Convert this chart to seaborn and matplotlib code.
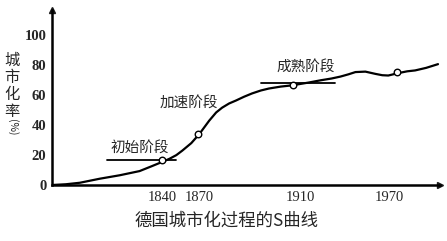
import matplotlib
matplotlib.use("Agg")
import matplotlib.pyplot as plt
import seaborn as sns
import pandas as pd

# curve position along the (non-linear) time axis and urbanisation rate (%)
curve_x = [0, 14, 28, 48, 68, 88, 100, 111, 118, 125, 131, 140, 148, 153, 158,
           165, 171, 178, 185, 193, 201, 210, 218, 230, 241, 258, 270, 281,
           290, 298, 305, 315, 325, 332, 338, 348, 357, 365, 376, 388]
curve_y = [0, 0.5, 1.5, 4.2, 6.5, 9.3, 12.5, 15.5, 17.5, 20, 23, 28, 34, 38.5, 43,
           48.5, 51.7, 54.5, 56.5, 59, 61.2, 63.2, 64.5, 65.8, 66.6, 68.5, 70, 71.2,
           72.5, 74, 75.5, 75.8, 74.3, 73.4, 73.2, 74.8, 76, 76.6, 78.3, 80.8]

# marked points
pt_x = [111, 147, 242, 347]
pt_y = [16.5, 34, 67, 75.5]

tick_pos = [111, 148, 250, 339]
tick_labels = ["1840", "1870", "1910", "1970"]
y_ticks = [0, 20, 40, 60, 80, 100]

stage_names = ["初始阶段", "加速阶段", "成熟阶段"]

sns.set_theme(style="white")
plt.rcParams['font.family'] = ['Noto Sans CJK SC', 'DejaVu Sans']

fig = plt.figure(figsize=(4.47, 2.41), dpi=100)
ax = fig.add_axes([52/447, 56/241, 388/447, 175/241])

df = pd.DataFrame({"x": curve_x, "y": curve_y})
sns.lineplot(data=df, x="x", y="y", ax=ax, color="black", linewidth=1.6,
             solid_joinstyle="round", solid_capstyle="round")
sns.scatterplot(x=pt_x, y=pt_y, ax=ax, s=22, facecolor="white", edgecolor="black",
                linewidth=1.0, zorder=5)

# stage reference lines
ax.plot([55, 125], [16.5, 16.5], color="black", linewidth=1.3)
ax.plot([210, 284], [68.5, 68.5], color="black", linewidth=1.3)

ax.set_xlim(0, 390)
ax.set_ylim(0, 117)

for s in ["top", "right"]:
    ax.spines[s].set_visible(False)
for s in ["left", "bottom"]:
    ax.spines[s].set_linewidth(1.8)
    ax.spines[s].set_color("black")

ax.plot(1, 0, ">k", transform=ax.get_yaxis_transform(), clip_on=False, markersize=4)
ax.plot(0, 1, "^k", transform=ax.get_xaxis_transform(), clip_on=False, markersize=4)

ax.set_xticks(tick_pos)
ax.set_xticklabels(tick_labels, family="Liberation Serif", fontsize=10.5)
ax.set_yticks(y_ticks)
ax.set_yticklabels([str(v) for v in y_ticks], family="Liberation Serif", fontsize=10.5, fontweight="bold")
ax.tick_params(axis="both", length=0, pad=4)
ax.set_xlabel("")
ax.set_ylabel("")

ax.text(88, 25, stage_names[0], fontsize=10.5, ha="center", va="center")
ax.text(138, 55, stage_names[1], fontsize=10.5, ha="center", va="center")
ax.text(255, 79, stage_names[2], fontsize=10.5, ha="center", va="center")

fig.text(12/447, 1 - 86/241, "城\n市\n化\n率", fontsize=11, ha="center", va="center", linespacing=1.0)
fig.text(12/447, 1 - 127/241, "(%)", fontsize=7.5, ha="center", va="center", rotation=-90)

fig.text(227/447, 1 - 221/241, "德国城市化过程的S曲线", fontsize=12.5, ha="center", va="center")

fig.savefig("out.png", dpi=100)
